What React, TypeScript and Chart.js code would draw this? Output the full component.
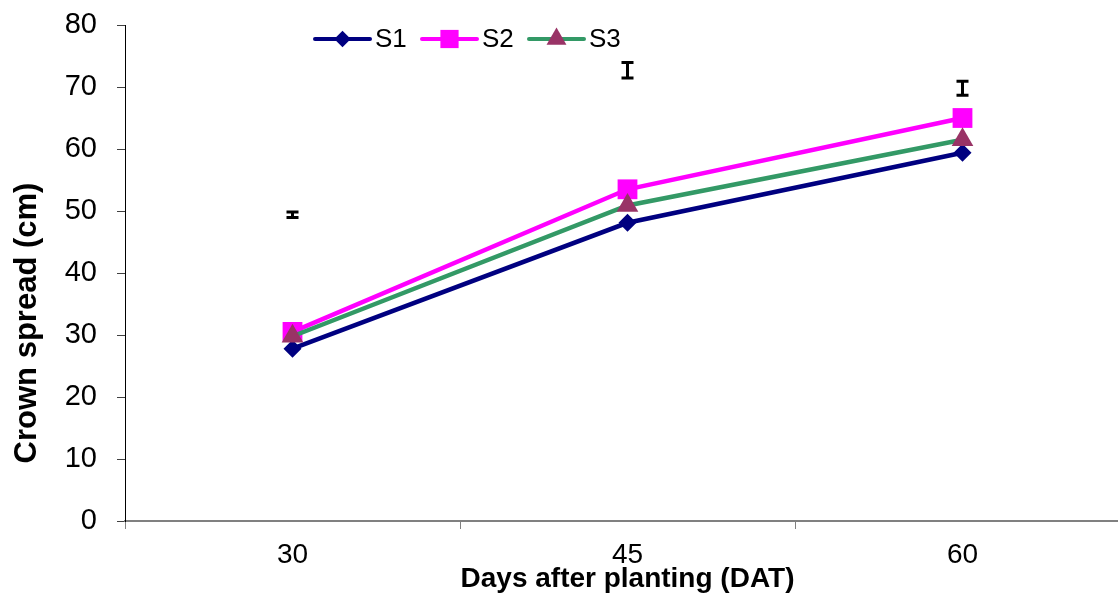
import React, { useEffect, useRef } from "react";
import { Chart, registerables } from "chart.js";

Chart.register(...registerables);

const categories = ["30", "45", "60"];
const s1 = [27.8, 48.1, 59.4];
const s2 = [30.5, 53.5, 65.0];
const s3 = [29.8, 50.9, 61.5];
const lsdCenter = [49.4, 72.7, 69.8];
const lsdHalf = [0.6, 1.4, 1.3];
const yTicks = [0, 10, 20, 30, 40, 50, 60, 70, 80];
const yTitle = "Crown spread (cm)";
const xTitle = "Days after planting (DAT)";

const FONT = "Arial, 'Liberation Sans', sans-serif";

const errorBarPlugin = {
  id: "lsdBars",
  afterDatasetsDraw(chart: any) {
    const { ctx, scales } = chart;
    const xs = scales.x;
    const ys = scales.y;
    ctx.save();
    ctx.strokeStyle = "#000";
    ctx.lineWidth = 3;
    ctx.lineCap = "butt";
    lsdCenter.forEach((c, i) => {
      const x = xs.getPixelForValue(i);
      const yTop = ys.getPixelForValue(c + lsdHalf[i]);
      const yBot = ys.getPixelForValue(c - lsdHalf[i]);
      ctx.beginPath();
      ctx.moveTo(x, yTop);
      ctx.lineTo(x, yBot);
      ctx.moveTo(x - 6, yTop + 1);
      ctx.lineTo(x + 6, yTop + 1);
      ctx.moveTo(x - 6, yBot - 1);
      ctx.lineTo(x + 6, yBot - 1);
      ctx.stroke();
    });
    ctx.restore();
  },
};

function drawMarker(ctx: CanvasRenderingContext2D, style: string, r: number, x: number, y: number) {
  ctx.beginPath();
  if (style === "rectRot") {
    ctx.moveTo(x, y - r);
    ctx.lineTo(x + r, y);
    ctx.lineTo(x, y + r);
    ctx.lineTo(x - r, y);
  } else if (style === "rect") {
    const s = r * Math.SQRT1_2;
    ctx.rect(x - s, y - s, 2 * s, 2 * s);
  } else {
    const half = (r * Math.sqrt(3)) / 2;
    ctx.moveTo(x, y - r);
    ctx.lineTo(x + half, y + r / 2);
    ctx.lineTo(x - half, y + r / 2);
  }
  ctx.closePath();
  ctx.fill();
}

const legendPlugin = {
  id: "customLegend",
  afterDraw(chart: any) {
    const { ctx } = chart;
    const starts = [315, 422, 529];
    ctx.save();
    starts.forEach((sx, i) => {
      const ds = chart.data.datasets[i];
      const y = 39;
      ctx.strokeStyle = ds.borderColor;
      ctx.lineWidth = 4;
      ctx.lineCap = "round";
      ctx.beginPath();
      ctx.moveTo(sx, y);
      ctx.lineTo(sx + 55, y);
      ctx.stroke();
      ctx.fillStyle = ds.pointBackgroundColor;
      drawMarker(ctx, ds.pointStyle, ds.pointRadius * 0.92, sx + 27.5, y);
      ctx.fillStyle = "#000";
      ctx.font = `26px ${FONT}`;
      ctx.textBaseline = "middle";
      ctx.textAlign = "left";
      ctx.fillText(ds.label, sx + 60, y + 1);
    });
    ctx.restore();
  },
};

const yTitlePlugin = {
  id: "yTitle",
  afterDraw(chart: any) {
    const { ctx } = chart;
    ctx.save();
    ctx.translate(27, 323);
    ctx.rotate(-Math.PI / 2);
    ctx.fillStyle = "#000";
    ctx.font = `bold 31px ${FONT}`;
    ctx.textAlign = "center";
    ctx.textBaseline = "middle";
    ctx.fillText(yTitle, 0, 0);
    ctx.restore();
  },
};

export default function App() {
  const ref = useRef<HTMLCanvasElement>(null);
  useEffect(() => {
    if (!ref.current) return;
    const chart = new Chart(ref.current, {
      type: "line",
      data: {
        labels: categories,
        datasets: [
          {
            label: "S1",
            data: s1,
            borderColor: "#000080",
            backgroundColor: "#000080",
            pointBackgroundColor: "#000080",
            pointBorderColor: "#000080",
            pointStyle: "rectRot",
            pointRadius: 9,
            pointBorderWidth: 0,
            borderWidth: 4.5,
            tension: 0,
            order: 2,
          } as any,
          {
            label: "S2",
            data: s2,
            borderColor: "#FF00FF",
            backgroundColor: "#FF00FF",
            pointBackgroundColor: "#FF00FF",
            pointBorderColor: "#FF00FF",
            pointStyle: "rect",
            pointRadius: 14,
            pointBorderWidth: 0,
            borderWidth: 4.5,
            tension: 0,
            order: 1,
          },
          {
            label: "S3",
            data: s3,
            borderColor: "#339966",
            backgroundColor: "#993366",
            pointBackgroundColor: "#993366",
            pointBorderColor: "#993366",
            pointStyle: "triangle",
            pointRadius: 12.5,
            pointBorderWidth: 0,
            borderWidth: 4.5,
            tension: 0,
            order: 0,
          },
        ],
      },
      options: {
        responsive: false,
        animation: false,
        layout: { autoPadding: false, padding: { top: 25, right: 0, bottom: 0, left: 0 } },
        plugins: {
          legend: { display: false },
          tooltip: { enabled: false },
        },
        scales: {
          x: {
            type: "category",
            offset: true,
            border: { display: true, color: "#808080", width: 2 },
            grid: {
              display: true,
              drawOnChartArea: false,
              drawTicks: true,
              tickLength: 8,
              color: "#808080",
              offset: true,
            },
            ticks: {
              color: "#000",
              padding: 9,
              font: { family: FONT, size: 28 },
              maxRotation: 0,
            },
            title: {
              display: true,
              text: xTitle,
              color: "#000",
              font: { family: FONT, size: 28, weight: "bold", lineHeight: 1 },
              padding: { top: 0, bottom: 0 },
            },
            afterFit: (s: any) => {
              s.height = 72;
              s.paddingLeft = 0;
              s.paddingRight = 0;
            },
          },
          y: {
            min: 0,
            max: 80,
            afterBuildTicks: (s: any) => {
              s.ticks = yTicks.map((v) => ({ value: v }));
            },
            border: { display: true, color: "#000", width: 1 },
            grid: {
              display: true,
              drawOnChartArea: false,
              drawTicks: true,
              tickLength: 8,
              color: "#404040",
            },
            ticks: {
              color: "#000",
              padding: 20,
              font: { family: FONT, size: 29 },
            },
            afterFit: (s: any) => {
              s.width = 125;
              s.paddingTop = 0;
              s.paddingBottom = 0;
            },
          },
        },
      },
      plugins: [errorBarPlugin, legendPlugin, yTitlePlugin],
    });
    return () => chart.destroy();
  }, []);
  return (
    <div
      style={{
        position: "fixed",
        left: 0,
        top: 0,
        width: 1118,
        height: 593,
        overflow: "hidden",
        background: "#fff",
      }}
    >
      <canvas ref={ref} width={1130} height={593} style={{ display: "block" }} />
    </div>
  );
}
